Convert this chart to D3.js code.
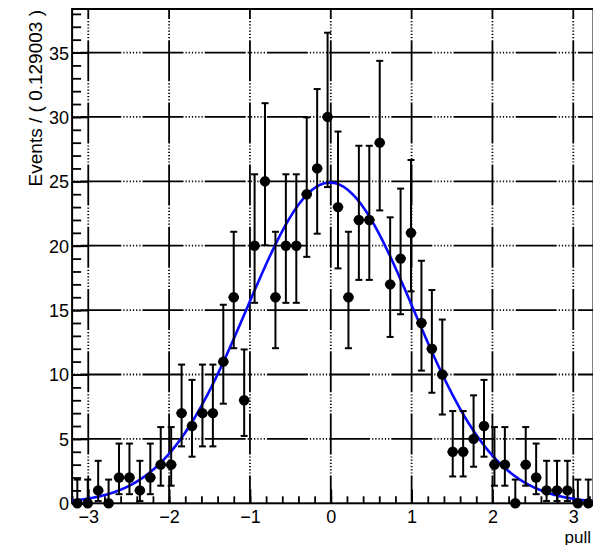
<!DOCTYPE html>
<html>
<head>
<meta charset="utf-8">
<script src="https://cdn.jsdelivr.net/npm/d3@7"></script>
<style>
  html, body { margin: 0; padding: 0; background: #fff; }
  svg { display: block; }
  text { font-family: "Liberation Sans", Arial, Helvetica, sans-serif; fill: #000; }
</style>
</head>
<body>
<svg id="chart" width="593" height="545"></svg>
<script>
// ---- data ----
const binLow = -3.2;
const binWidth = 0.129003;
const counts = [0, 0, 1, 0, 2, 2, 1, 2, 3, 3,
                7, 6, 7, 7, 11, 16, 8, 20, 25, 16,
                20, 20, 24, 26, 30, 23, 16, 22, 22, 28,
                17, 19, 21, 14, 12, 10, 4, 4, 5, 6,
                3, 3, 0, 3, 2, 1, 1, 1, 0, 0];
const xTicks = [-3, -2, -1, 0, 1, 2, 3];
const yTicks = [0, 5, 10, 15, 20, 25, 30, 35];
const yMax = 38.38;
// Gaussian fit parameters
const fitPeak = 24.9;
const fitMean = -0.01;
const fitSigma = 1.03;
const xTitle = "pull";
const yTitle = "Events / ( 0.129003 )";

// ---- layout ----
const pLeft = 72.1, pRight = 593.5, pTop = 9, pBottom = 503.3;
const xMax = binLow + counts.length * binWidth;

const svg = d3.select("#chart");
const x = d3.scaleLinear().domain([binLow, xMax]).range([pLeft, pRight]);
const y = d3.scaleLinear().domain([0, yMax]).range([pBottom, pTop]);

// Poisson (Garwood) 68% intervals
function poisCdf(n, mu) {
  let term = Math.exp(-mu), s = term;
  for (let k = 1; k <= n; k++) { term *= mu / k; s += term; }
  return s;
}
function solve(f, target, lo, hi) {
  for (let i = 0; i < 100; i++) {
    const m = (lo + hi) / 2;
    if (f(m) > target) lo = m; else hi = m;
  }
  return (lo + hi) / 2;
}
const alpha = 0.158655;
const points = counts.map((n, i) => {
  const hi = solve(mu => poisCdf(n, mu), alpha, 0, 200);
  const lo = n === 0 ? 0 : solve(mu => poisCdf(n - 1, mu), 1 - alpha, 0, 200);
  return { x0: binLow + i * binWidth, x1: binLow + (i + 1) * binWidth,
           xc: binLow + (i + 0.5) * binWidth, n, lo, hi };
});

// ---- grid ----
const gridDash = "41,2,1.2,2,1.2,2,1.2,2,1.2,2,1.2,2,1.2,2";
const grid = svg.append("g");
grid.selectAll("line.v").data(xTicks).enter().append("line")
  .attr("x1", d => x(d)).attr("x2", d => x(d))
  .attr("y1", pTop).attr("y2", pBottom)
  .attr("stroke", "#000").attr("stroke-width", 1.8)
  .attr("stroke-dasharray", gridDash).attr("stroke-dashoffset", 31);
grid.selectAll("line.h").data(yTicks.filter(d => d > 0)).enter().append("line")
  .attr("x1", pLeft).attr("x2", pRight)
  .attr("y1", d => y(d)).attr("y2", d => y(d))
  .attr("stroke", "#000").attr("stroke-width", 1.8)
  .attr("stroke-dasharray", gridDash).attr("stroke-dashoffset", 54);

// ---- axes ----
const xAxisG = svg.append("g").attr("transform", `translate(0,${pBottom})`);
const xMinor = d3.range(-16, 17).map(k => k * 0.2).filter(v => v >= binLow && v <= xMax);
xAxisG.call(d3.axisBottom(x).tickValues(xMinor).tickSize(-7).tickFormat(""))
  .call(g => g.select(".domain").remove())
  .call(g => g.selectAll("line").attr("stroke-width", 1.8));
xAxisG.append("g").call(d3.axisBottom(x).tickValues(xTicks).tickSize(-14).tickFormat(d3.format("d")))
  .call(g => g.select(".domain").remove())
  .call(g => g.selectAll("line").attr("stroke-width", 1.8))
  .call(g => g.selectAll("text").attr("y", 7).attr("dy", "0.71em")
    .style("font-size", "18px").style("font-family", "Liberation Sans, Arial, sans-serif").attr("fill", "#000"));

const yAxisG = svg.append("g").attr("transform", `translate(${pLeft},0)`);
const yMinor = d3.range(0, 39);
yAxisG.call(d3.axisLeft(y).tickValues(yMinor).tickSize(-9).tickFormat(""))
  .call(g => g.select(".domain").remove())
  .call(g => g.selectAll("line").attr("stroke-width", 1.8));
yAxisG.append("g").call(d3.axisLeft(y).tickValues(yTicks).tickSize(-16).tickFormat(d3.format("d")))
  .call(g => g.select(".domain").remove())
  .call(g => g.selectAll("line").attr("stroke-width", 1.8))
  .call(g => g.selectAll("text").attr("x", -3).attr("dy", "0.36em")
    .style("font-size", "18px").style("font-family", "Liberation Sans, Arial, sans-serif").attr("fill", "#000"));

// frame
svg.append("rect").attr("x", pLeft).attr("y", pTop)
  .attr("width", pRight - pLeft).attr("height", pBottom - pTop)
  .attr("fill", "none").attr("stroke", "#000").attr("stroke-width", 2);

// ---- data points ----
const pts = svg.append("g");
pts.selectAll("line.xerr").data(points).enter().append("line")
  .attr("x1", d => x(d.x0)).attr("x2", d => x(d.x1))
  .attr("y1", d => y(d.n)).attr("y2", d => y(d.n))
  .attr("stroke", "#000").attr("stroke-width", 2);
pts.selectAll("line.yerr").data(points).enter().append("line")
  .attr("x1", d => x(d.xc)).attr("x2", d => x(d.xc))
  .attr("y1", d => y(d.lo)).attr("y2", d => y(d.hi))
  .attr("stroke", "#000").attr("stroke-width", 2);
pts.selectAll("line.capHi").data(points).enter().append("line")
  .attr("x1", d => x(d.xc) - 3.5).attr("x2", d => x(d.xc) + 3.5)
  .attr("y1", d => y(d.hi)).attr("y2", d => y(d.hi))
  .attr("stroke", "#000").attr("stroke-width", 2);
pts.selectAll("line.capLo").data(points.filter(d => d.n > 0)).enter().append("line")
  .attr("x1", d => x(d.xc) - 3.5).attr("x2", d => x(d.xc) + 3.5)
  .attr("y1", d => y(d.lo)).attr("y2", d => y(d.lo))
  .attr("stroke", "#000").attr("stroke-width", 2);

// ---- fit curve ----
const curveX = d3.range(binLow, xMax + 1e-9, 0.01);
const line = d3.line().x(d => x(d)).y(d => y(fitPeak * Math.exp(-0.5 * Math.pow((d - fitMean) / fitSigma, 2))));
svg.append("path").datum(curveX).attr("d", line)
  .attr("fill", "none").attr("stroke", "#0a0aff").attr("stroke-width", 2.6);

pts.raise();
pts.selectAll("circle").data(points).enter().append("circle")
  .attr("cx", d => x(d.xc)).attr("cy", d => y(d.n)).attr("r", 5.2)
  .attr("fill", "#000");

// ---- titles ----
svg.append("text").attr("x", 591).attr("y", 542.5).attr("text-anchor", "end")
  .style("font-size", "17px").text(xTitle);
svg.append("text").attr("transform", "translate(42,10) rotate(-90)")
  .attr("text-anchor", "end").style("font-size", "19px").text(yTitle);
</script>
</body>
</html>
